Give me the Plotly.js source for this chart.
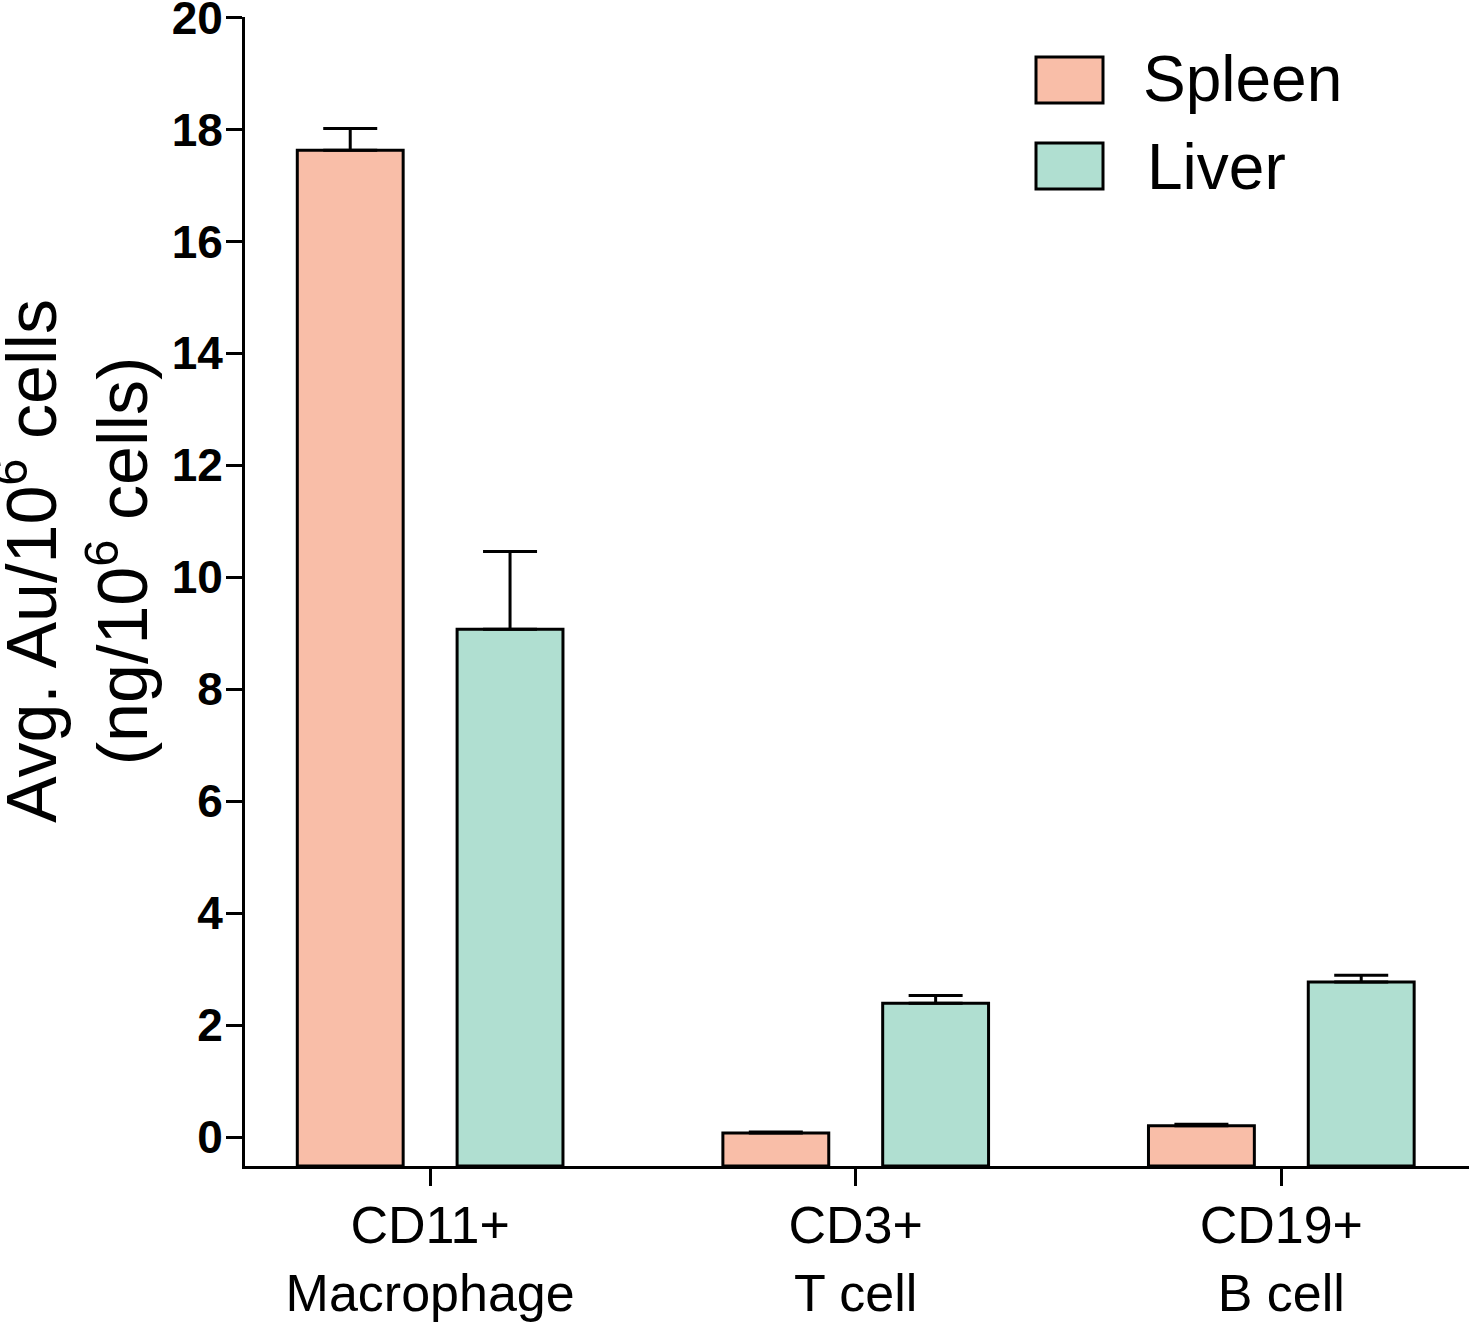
<!DOCTYPE html>
<html>
<head>
<meta charset="utf-8">
<script src="https://cdn.plot.ly/plotly-3.0.1.min.js"></script>
<style>html,body{margin:0;padding:0;background:#fff;}#chart{width:1472px;height:1324px;}</style>
</head>
<body>
<div id="chart"></div>
<script>
// ---- data ----
const categories = ["CD11+<br>Macrophage", "CD3+<br>T cell", "CD19+<br>B cell"];
const seriesNames = ["Spleen", "Liver"];
const spleenValues = [17.63, 0.07, 0.20];
const spleenErrors = [0.39, 0.02, 0.03];
const liverValues = [9.07, 2.39, 2.77];
const liverErrors = [1.39, 0.14, 0.12];
const yTickVals = [0, 2, 4, 6, 8, 10, 12, 14, 16, 18, 20];

// ---- layout helpers ----
const W = 1472, H = 1324;
const M = {l: 245, r: 3, t: 17, b: 158};
const yMin = -0.518, yMax = 20.01;
const pw = W - M.l - M.r, ph = H - M.t - M.b;
const px = x => (x - M.l) / pw;
const py = y => (H - M.b - y) / ph;
const font = "Liberation Sans, Arial, sans-serif";
const colors = ["#F9BEA8", "#B0DFD1"];

function barTrace(name, vals, errs, color) {
  return {
    type: "bar",
    name: name,
    x: categories,
    y: vals.map(v => v - yMin),
    base: vals.map(() => yMin),
    marker: {color: color, line: {color: "#000", width: 3}},
    error_y: {type: "data", symmetric: false, array: errs, arrayminus: errs.map(() => 0),
              color: "#000", thickness: 3, width: 27},
    hoverinfo: "skip"
  };
}

const data = [
  barTrace(seriesNames[0], spleenValues, spleenErrors, colors[0]),
  barTrace(seriesNames[1], liverValues, liverErrors, colors[1])
];

const legendBoxes = [[1036, 57, 1103, 103], [1036, 143, 1103, 189]];
const legendText = [[1141, 79], [1145, 167]];

const shapes = legendBoxes.map((b, i) => ({
  type: "rect", xref: "paper", yref: "paper",
  x0: px(b[0]), x1: px(b[2]), y0: py(b[1]), y1: py(b[3]),
  fillcolor: colors[i], line: {color: "#000", width: 3}
}));

const annotations = seriesNames.map((n, i) => ({
  text: n, xref: "paper", yref: "paper", x: px(legendText[i][0]), y: py(legendText[i][1]),
  xanchor: "left", yanchor: "middle", showarrow: false,
  font: {family: font, size: 64, color: "#000"}
}));
annotations.push({
  text: "Avg. Au/10<sup>6</sup> cells<br>(ng/10<sup>6</sup> cells)",
  xref: "paper", yref: "paper", x: px(72), y: py(561),
  xanchor: "center", yanchor: "middle", textangle: -90, showarrow: false,
  font: {family: font, size: 70, color: "#000"}
});

const layout = {
  width: W, height: H,
  margin: M,
  paper_bgcolor: "#fff", plot_bgcolor: "#fff",
  barmode: "group", bargap: 0.249, bargroupgap: 0.3375,
  showlegend: false,
  font: {family: font, color: "#000"},
  xaxis: {
    type: "category", range: [-0.435, 2.441],
    showline: true, linecolor: "#000", linewidth: 3,
    ticks: "outside", ticklen: 17, tickwidth: 3, tickcolor: "#000",
    ticklabelstandoff: -5, ticklabeloverflow: "allow",
    showgrid: false, zeroline: false,
    tickfont: {family: font, size: 52, color: "#000"}
  },
  yaxis: {
    range: [yMin, yMax], tickvals: yTickVals,
    showline: true, linecolor: "#000", linewidth: 3,
    ticks: "outside", ticklen: 16, tickwidth: 3, tickcolor: "#000",
    ticklabelstandoff: -6, ticklabeloverflow: "allow",
    showgrid: false, zeroline: false,
    tickfont: {family: font, size: 46, color: "#000", weight: "bold"}
  },
  shapes: shapes,
  annotations: annotations
};

Plotly.newPlot("chart", data, layout, {displayModeBar: false, staticPlot: true});
</script>
</body>
</html>
